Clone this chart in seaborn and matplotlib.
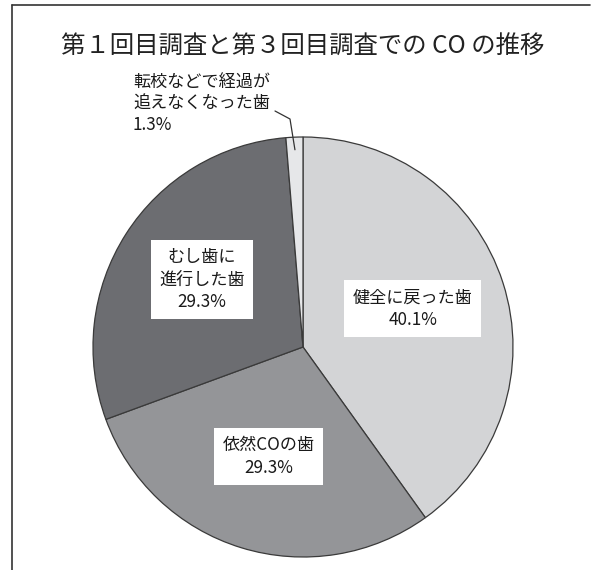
import matplotlib
matplotlib.use("Agg")
import matplotlib.pyplot as plt
from matplotlib.lines import Line2D
import numpy as np
import seaborn as sns

# ── DATA ─────────────────────────────────────────────
labels   = ["健全に戻った歯", "依然COの歯", "むし歯に\n進行した歯", "転校などで経過が\n追えなくなった歯"]
values   = [40.1, 29.3, 29.3, 1.3]
colors   = ["#d3d4d6", "#949598", "#6c6d71", "#e6e7e9"]
title    = "第１回目調査と第３回目調査での CO の推移"

sns.set_theme(style="white")
plt.rcParams["font.family"] = ["Noto Sans CJK JP", "DejaVu Sans"]

W, H = 594, 570
fig = plt.figure(figsize=(W / 100, H / 100), dpi=100)
ax = fig.add_axes([0, 0, 1, 1])

cx, cy, r = 303, H - 347, 210
wedges, _ = ax.pie(values, colors=colors, startangle=90, counterclock=False,
                   center=(cx, cy), radius=r, frame=True,
                   wedgeprops=dict(edgecolor="#3a3a3a", linewidth=0.9))
ax.set_xlim(0, W)
ax.set_ylim(0, H)
ax.set_aspect("equal")
ax.axis("off")

# labels inside the three big slices
dists = [0.55, 0.56, 0.57]
for w, lab, v, d in zip(wedges[:3], labels[:3], values[:3], dists):
    ang = np.deg2rad((w.theta1 + w.theta2) / 2)
    x = cx + d * r * np.cos(ang)
    y = cy + d * r * np.sin(ang) + 3
    ax.text(x, y, f"{lab}\n{v}%", ha="center", va="center", fontsize=12.3,
            color="#1a1a1a", linespacing=1.3,
            bbox=dict(boxstyle="square,pad=0.5", fc="white", ec="none"))

# small slice: outside label with leader line
w = wedges[3]
ang = np.deg2rad((w.theta1 + w.theta2) / 2)
px = cx + 0.94 * r * np.cos(ang)
py = cy + 0.94 * r * np.sin(ang)
ax.plot([px, 290, 275], [py, H - 119, H - 111], color="#333333", lw=0.9)
ax.text(133, H - 74, f"{labels[3]}\n{values[3]}%", ha="left", va="top",
        fontsize=12.3, color="#1a1a1a", linespacing=1.2)

ax.text(W / 2 + 6, H - 47, title, ha="center", va="center", fontsize=17.6, color="#222222")

# frame lines (top and left)
fig.add_artist(Line2D([12 / W, 590 / W], [1 - 5 / H, 1 - 5 / H], color="#333333", lw=1.2))
fig.add_artist(Line2D([12 / W, 12 / W], [0, 1 - 5 / H], color="#333333", lw=1.2))

fig.savefig("out.png", dpi=100)
